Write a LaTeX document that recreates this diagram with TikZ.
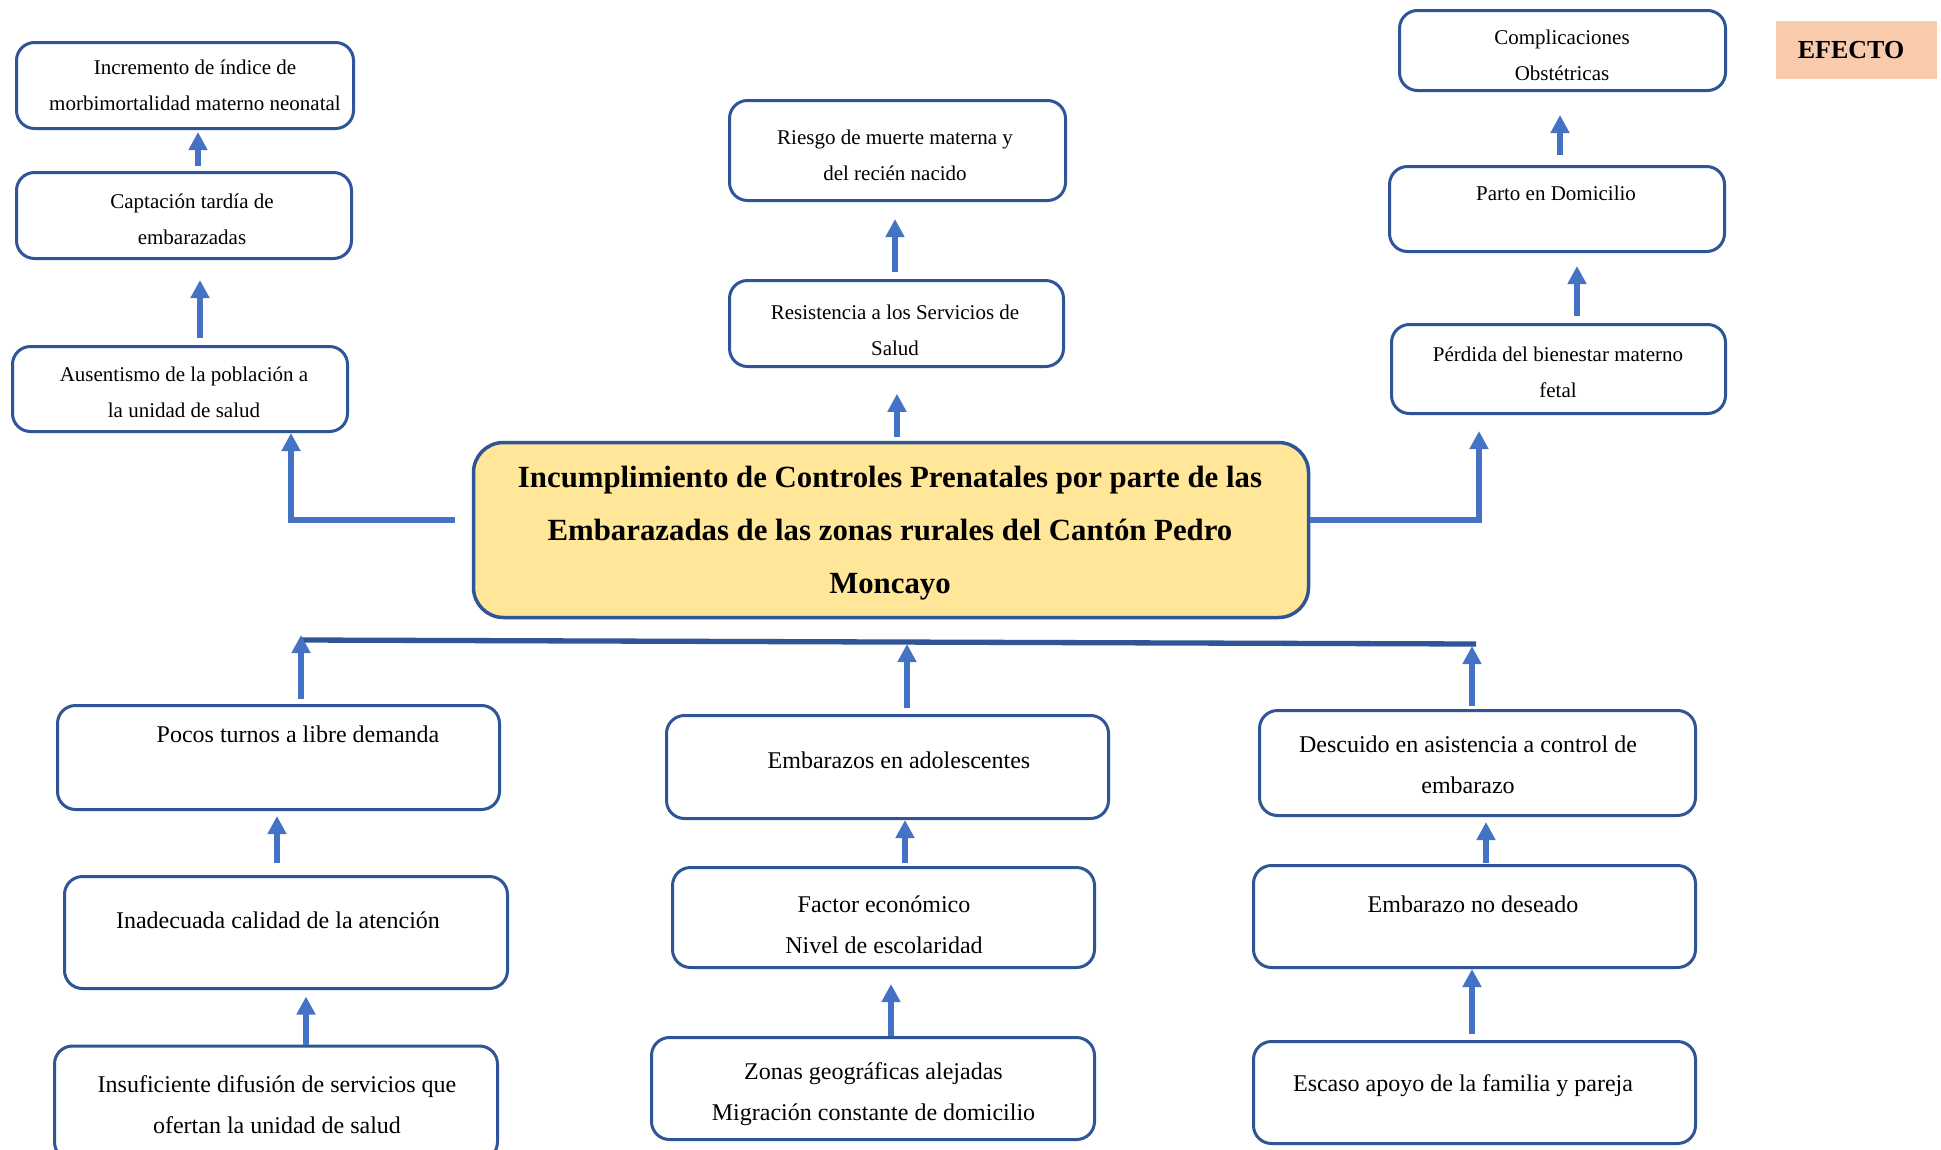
\documentclass[tikz,border=0pt]{standalone}
\usepackage{fontspec}
\setmainfont{Liberation Serif}
\usetikzlibrary{arrows.meta}
\definecolor{boxblue}{HTML}{2F5597}
\definecolor{arrblue}{HTML}{4472C4}
\definecolor{titlefill}{HTML}{FFE699}
\definecolor{peach}{HTML}{F8CBAD}
\tikzset{
  box/.style={draw=boxblue, line width=3pt, rounded corners=18pt, fill=white, inner sep=0pt},
  smalltxt/.style={align=center, font=\fontsize{21}{36}\selectfont, inner sep=0pt},
  bigtxt/.style={align=center, font=\fontsize{24}{41}\selectfont, inner sep=0pt},
  arr/.style={draw=arrblue, line width=6pt, -{Triangle[length=18pt,width=18pt]}},
  bar/.style={draw=boxblue, line width=5.3pt},
}
\begin{document}
\begin{tikzpicture}[x=1pt,y=-1pt]
\useasboundingbox (0,0) rectangle (1941,1149);
\clip (0,0) rectangle (1941,1149);
\fill[white] (0,0) rectangle (1941,1149);

% ---- effects (top) ----
\node[box, minimum width=337pt, minimum height=86pt] (A1) at (185,85.5) {};
\node[box, minimum width=335pt, minimum height=86pt] (A2) at (184,215.5) {};
\node[box, minimum width=335pt, minimum height=85pt] (A3) at (180,389) {};
\node[box, minimum width=336pt, minimum height=100pt] (B1) at (897.5,150.5) {};
\node[box, minimum width=334pt, minimum height=86pt] (B2) at (896.5,323.5) {};
\node[box, minimum width=326pt, minimum height=80pt] (C1) at (1562.5,50.5) {};
\node[box, minimum width=335pt, minimum height=85pt] (C2) at (1557,209) {};
\node[box, minimum width=334pt, minimum height=89pt] (C3) at (1558.5,369) {};
\node[fill=peach, minimum width=161pt, minimum height=58pt, inner sep=0pt] (EF) at (1856.5,50) {};

\node[smalltxt] (tA1) at (195,85) {Incremento de índice de\\morbimortalidad materno neonatal};
\node[smalltxt] (tA2) at (192,219) {Captación tardía de\\embarazadas};
\node[smalltxt] (tA3) at (184,392) {Ausentismo de la población a\\la unidad de salud};
\node[smalltxt] (tB1) at (895,155) {Riesgo de muerte materna y\\del recién nacido};
\node[smalltxt] (tB2) at (895,330) {Resistencia a los Servicios de\\Salud};
\node[smalltxt] (tC1) at (1562,55) {Complicaciones\\Obstétricas};
\node[smalltxt] (tC2) at (1556,193) {Parto en Domicilio};
\node[smalltxt] (tC3) at (1558,372) {Pérdida del bienestar materno\\fetal};
\node[inner sep=0pt, font=\fontsize{26}{30}\bfseries\selectfont] (tEF) at (1851,50) {EFECTO};

% ---- central problem ----
\node[draw=boxblue, line width=3.5pt, fill=titlefill, rounded corners=30pt,
      minimum width=835pt, minimum height=175pt, inner sep=0pt] (M) at (891,530) {};
\node[align=center, inner sep=0pt, font=\fontsize{30.8}{53}\bfseries\selectfont] (tM) at (890,533)
  {Incumplimiento de Controles Prenatales por parte de las\\Embarazadas de las zonas rurales del Cantón Pedro\\Moncayo};

% ---- causes (bottom) ----
\node[box, minimum width=442pt, minimum height=104pt] (D1) at (278.5,757.5) {};
\node[box, minimum width=443pt, minimum height=112pt] (D2) at (286,932.5) {};
\node[box, minimum width=443pt, minimum height=114pt] (D3) at (276,1103) {};
\node[box, minimum width=442pt, minimum height=103pt] (E1) at (887.5,767) {};
\node[box, minimum width=422pt, minimum height=100pt] (E2) at (883.5,917.5) {};
\node[box, minimum width=443pt, minimum height=102pt] (E3) at (873,1088.5) {};
\node[box, minimum width=436pt, minimum height=105pt] (F1) at (1477.5,763) {};
\node[box, minimum width=442pt, minimum height=102pt] (F2) at (1474.5,916.5) {};
\node[box, minimum width=442pt, minimum height=102pt] (F3) at (1474.5,1092.5) {};

\node[bigtxt] (tD1) at (298,734) {Pocos turnos a libre demanda};
\node[bigtxt] (tD2) at (278,920) {Inadecuada calidad de la atención};
\node[bigtxt] (tD3) at (277,1104.5) {Insuficiente difusión de servicios que\\ofertan la unidad de salud};
\node[bigtxt] (tE1) at (899,760) {Embarazos en adolescentes};
\node[bigtxt] (tE2) at (884,924.5) {Factor económico\\Nivel de escolaridad};
\node[bigtxt] (tE3) at (873.5,1094) {Zonas geográficas alejadas\\Migración constante de domicilio};
\node[bigtxt] (tF1) at (1468,765) {Descuido en asistencia a control de\\embarazo};
\node[bigtxt] (tF2) at (1473,904) {Embarazo no deseado};
\node[bigtxt] (tF3) at (1463,1086) {Escaso apoyo de la familia y pareja};

% ---- connectors: effects ----
\draw[arr] ([xshift=20pt,yshift=7pt]A3.north) -- ++(0,-58);
\draw[arr] ([xshift=14pt,yshift=5pt]A2.north) -- ++(0,-34);
\draw[arr] ([xshift=-17pt,yshift=10pt]M.west) -| ([xshift=111pt]A3.south);
\draw[arr] ([xshift=6pt,yshift=4pt]M.north) -- ++(0,-43);
\draw[arr] ([xshift=-1.5pt,yshift=7pt]B2.north) -- ++(0,-53);
\draw[arr] ([yshift=10pt]M.east) -| ([xshift=-79.5pt,yshift=-16pt]C3.south);
\draw[arr] ([xshift=18.5pt,yshift=7pt]C3.north) -- ++(0,-50);
\draw[arr] ([xshift=3pt,yshift=10pt]C2.north) -- ++(0,-40);

% ---- connectors: causes ----
\coordinate (L1) at (302,640);
\coordinate (L2) at (1476,644);
\draw[bar] (L1) -- (L2);
\draw[arr] ([xshift=22.5pt,yshift=5pt]D1.north) -- ++(0,-64);
\draw[arr] ([xshift=19.5pt,yshift=6pt]E1.north) -- ++(0,-64);
\draw[arr] ([xshift=-5.5pt,yshift=3pt]F1.north) -- ++(0,-60);
\draw[arr] ([xshift=-9pt,yshift=12pt]D2.north) -- ++(0,-47);
\draw[arr] ([xshift=30pt]D3.north) -- ++(0,-48);
\draw[arr] ([xshift=21.5pt,yshift=3pt]E2.north) -- ++(0,-43);
\draw[arr] ([xshift=18pt]E3.north) -- ++(0,-52);
\draw[arr] ([xshift=11.5pt,yshift=1pt]F2.north) -- ++(0,-41);
\draw[arr] ([xshift=-2.5pt,yshift=6pt]F3.north) -- ++(0,-65);
\end{tikzpicture}
\end{document}
